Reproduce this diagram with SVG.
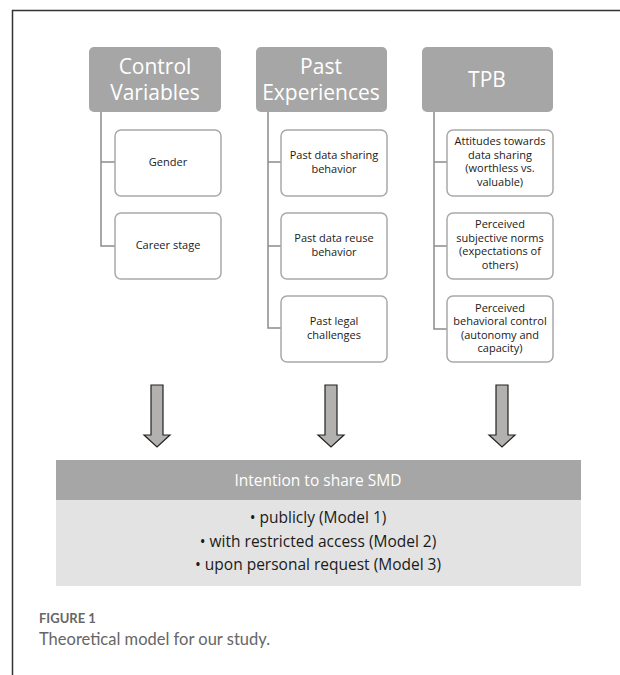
<svg xmlns="http://www.w3.org/2000/svg" width="620" height="675" viewBox="0 0 620 675">
<style>
.hdr{fill:#a6a6a6}
.hdrt{font-family:"Open Sans","Noto Sans",sans-serif;font-size:21px;fill:#fff;text-anchor:middle}
.box{fill:#fff;stroke:#a9a9a9;stroke-width:1.5}
.bt{font-family:"Open Sans","Noto Sans",sans-serif;font-size:11px;fill:#1a1a1a;text-anchor:middle}
.con{stroke:#8c8c8c;stroke-width:1.5;fill:none}
.arr{fill:#b3b0b0;stroke:#222;stroke-width:1.2;stroke-linejoin:miter}
.it{font-family:"Open Sans","Noto Sans",sans-serif;font-size:15.5px;text-anchor:middle}
.cap{font-family:"Lato","Open Sans",sans-serif;fill:#666}
</style>
<rect width="620" height="675" fill="#fff"/>
<path d="M12.5 675 V10.5 H620" fill="none" stroke="#333" stroke-width="1.5"/>

<g id="connectors">
<path class="con" d="M101 112 V246 H115 M101 162 H115"/>
<path class="con" d="M268 112 V328 H281 M268 162 H281 M268 246 H281"/>
<path class="con" d="M434 112 V329 H447 M434 162 H447 M434 246 H447"/>
<path class="arr" d="M151 385 H163 V435 H170 L157 447 L144 435 H151 Z"/>
<path class="arr" d="M325 385 H337 V435 H344 L331 447 L318 435 H325 Z"/>
<path class="arr" d="M496 385 H508 V435 H515 L502 447 L489 435 H496 Z"/>
</g>

<g id="control-variables">
<rect class="hdr" x="89" y="47" width="132" height="65" rx="5"/>
<text class="hdrt" x="155" y="74">Control</text>
<text class="hdrt" x="155" y="100">Variables</text>
</g>
<g id="past-experiences">
<rect class="hdr" x="256" y="47" width="131" height="65" rx="5"/>
<text class="hdrt" x="321" y="74">Past</text>
<text class="hdrt" x="321" y="100">Experiences</text>
</g>
<g id="tpb">
<rect class="hdr" x="422" y="47" width="131" height="65" rx="5"/>
<text class="hdrt" x="487" y="87">TPB</text>
</g>

<g id="gender">
<rect class="box" x="115" y="130" width="106" height="66" rx="6"/>
<text class="bt" x="168" y="166">Gender</text>
</g>
<g id="career-stage">
<rect class="box" x="115" y="213" width="106" height="66" rx="6"/>
<text class="bt" x="168" y="249">Career stage</text>
</g>

<g id="past-sharing">
<rect class="box" x="281" y="130" width="106" height="66" rx="6"/>
<text class="bt" x="334" y="159">Past data sharing</text>
<text class="bt" x="334" y="173">behavior</text>
</g>
<g id="past-reuse">
<rect class="box" x="281" y="213" width="106" height="66" rx="6"/>
<text class="bt" x="334" y="242">Past data reuse</text>
<text class="bt" x="334" y="256">behavior</text>
</g>
<g id="past-legal">
<rect class="box" x="281" y="296" width="106" height="66" rx="6"/>
<text class="bt" x="334" y="325">Past legal</text>
<text class="bt" x="334" y="339">challenges</text>
</g>

<g id="attitudes">
<rect class="box" x="447" y="130" width="106" height="66" rx="6"/>
<text class="bt" x="500" y="145">Attitudes towards</text>
<text class="bt" x="500" y="158.5">data sharing</text>
<text class="bt" x="500" y="172">(worthless vs.</text>
<text class="bt" x="500" y="185.5">valuable)</text>
</g>
<g id="norms">
<rect class="box" x="447" y="213" width="106" height="66" rx="6"/>
<text class="bt" x="500" y="228">Perceived</text>
<text class="bt" x="500" y="241.5">subjective norms</text>
<text class="bt" x="500" y="255">(expectations of</text>
<text class="bt" x="500" y="268.5">others)</text>
</g>
<g id="control">
<rect class="box" x="447" y="296" width="106" height="66" rx="6"/>
<text class="bt" x="500" y="311.5">Perceived</text>
<text class="bt" x="500" y="325">behavioral control</text>
<text class="bt" x="500" y="338.5">(autonomy and</text>
<text class="bt" x="500" y="352">capacity)</text>
</g>

<g id="intention">
<rect x="56" y="460" width="525" height="40" fill="#a6a6a6"/>
<rect x="56" y="500" width="525" height="86" fill="#e3e3e3"/>
<text class="it" x="318" y="486" fill="#fff">Intention to share SMD</text>
<text class="it" x="318" y="523" fill="#1a1a1a">• publicly (Model 1)</text>
<text class="it" x="318" y="547" fill="#1a1a1a">• with restricted access (Model 2)</text>
<text class="it" x="318" y="570" fill="#1a1a1a">• upon personal request (Model 3)</text>
</g>

<g id="caption">
<text class="cap" x="39" y="623" font-size="13" font-weight="bold">FIGURE 1</text>
<text class="cap" x="39" y="645" font-size="16.5">Theoretical model for our study.</text>
</g>
</svg>
